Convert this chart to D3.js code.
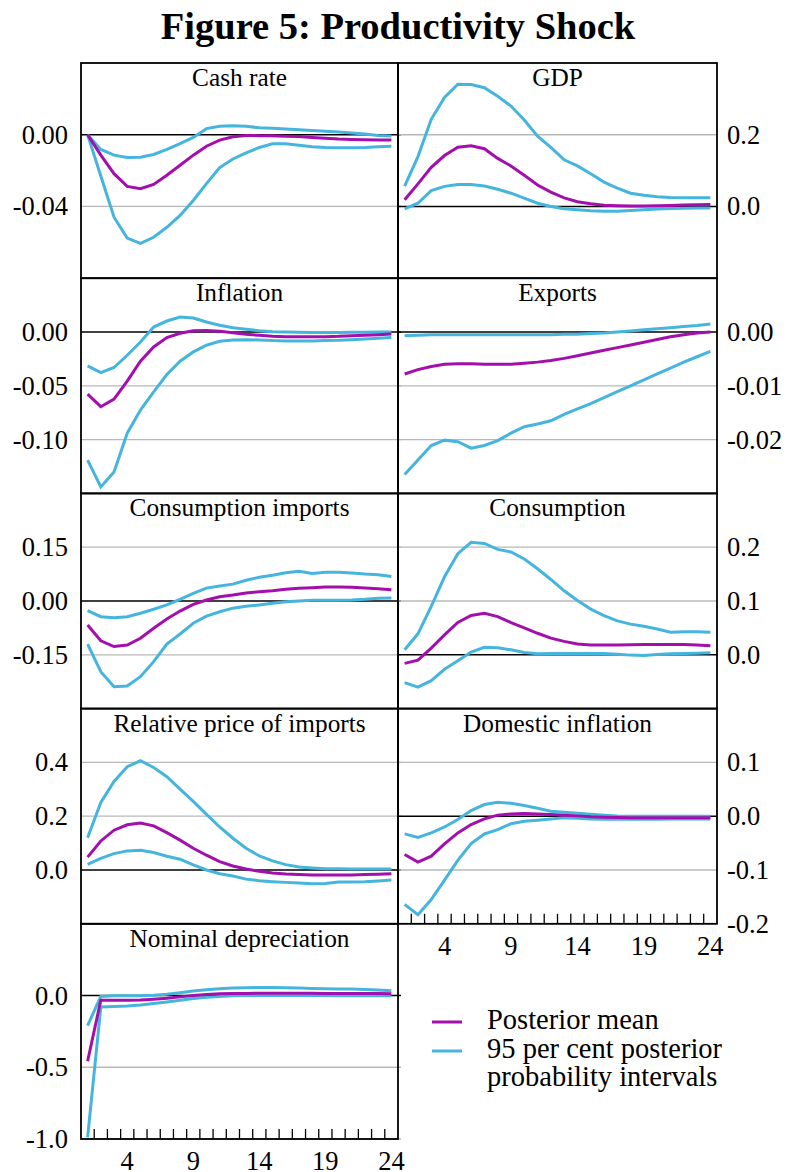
<!DOCTYPE html>
<html>
<head>
<meta charset="utf-8">
<script src="https://cdn.jsdelivr.net/npm/d3@7"></script>
<style>
  body { margin: 0; background: #fff; }
  svg text { font-family: "Liberation Serif", "Times New Roman", serif; fill: #000; }
</style>
</head>
<body>
<svg id="chart" width="790" height="1172"></svg>
<script>
// horizon (quarters)
const periods = d3.range(1, 25);
const xTickLabels = [4, 9, 14, 19, 24];

const cashMean = [0, -0.0114, -0.0217, -0.0288, -0.0301, -0.0277, -0.0226, -0.017, -0.0114, -0.0064, -0.003, -0.0011, -0.0004, -0.0005, -0.0006, -0.0008, -0.001, -0.0015, -0.002, -0.0024, -0.0026, -0.0028, -0.0029, -0.003];
const cashUpper = [0, -0.0082, -0.0114, -0.0127, -0.0125, -0.011, -0.0082, -0.0049, -0.0015, 0.0034, 0.0047, 0.005, 0.0047, 0.0039, 0.0036, 0.0032, 0.0028, 0.0024, 0.002, 0.0015, 0.0009, 0.0004, -0.0004, -0.0007];
const cashLower = [0, -0.023, -0.046, -0.0576, -0.0606, -0.0572, -0.0516, -0.045, -0.0367, -0.0273, -0.0183, -0.0135, -0.0101, -0.0071, -0.005, -0.005, -0.0058, -0.0067, -0.0071, -0.0072, -0.0072, -0.0071, -0.0067, -0.0064];

const gdpMean = [0.0185, 0.063, 0.109, 0.142, 0.165, 0.169, 0.161, 0.134, 0.113, 0.087, 0.06, 0.04, 0.024, 0.013, 0.0074, 0.0037, 0.002, 0.001, 0.001, 0.002, 0.003, 0.004, 0.005, 0.0056];
const gdpUpper = [0.057, 0.139, 0.243, 0.304, 0.341, 0.34, 0.331, 0.307, 0.28, 0.241, 0.196, 0.165, 0.13, 0.113, 0.091, 0.068, 0.051, 0.037, 0.031, 0.027, 0.025, 0.024, 0.024, 0.024];
const gdpLower = [-0.0065, 0.009, 0.044, 0.056, 0.061, 0.061, 0.057, 0.048, 0.037, 0.023, 0.009, 0, -0.0065, -0.009, -0.012, -0.013, -0.013, -0.011, -0.009, -0.007, -0.006, -0.005, -0.0046, -0.0046];

const inflMean = [-0.0577, -0.0694, -0.0623, -0.0457, -0.0272, -0.0139, -0.0052, -0.0012, 0.0012, 0.0015, 0.0006, -0.0006, -0.0022, -0.003, -0.004, -0.0043, -0.0043, -0.0043, -0.0043, -0.004, -0.0034, -0.003, -0.0025, -0.0019];
const inflUpper = [-0.0315, -0.0377, -0.033, -0.0216, -0.0093, 0.0046, 0.0102, 0.0139, 0.013, 0.0093, 0.0062, 0.004, 0.0025, 0.0012, 0.0003, 0, -0.0003, -0.0005, -0.0005, -0.0004, -0.0003, -0.0002, 0, 0];
const inflLower = [-0.119, -0.144, -0.13, -0.094, -0.0725, -0.0556, -0.0395, -0.0272, -0.0185, -0.0123, -0.0086, -0.0074, -0.0071, -0.0074, -0.008, -0.0083, -0.0083, -0.0083, -0.008, -0.0077, -0.0071, -0.0065, -0.0059, -0.0052];

const exportsMean = [-0.0078, -0.007, -0.0064, -0.006, -0.0059, -0.0059, -0.006, -0.006, -0.006, -0.0058, -0.0056, -0.0053, -0.0049, -0.0044, -0.0039, -0.0034, -0.0029, -0.0024, -0.0019, -0.0014, -0.0009, -0.0005, -0.0002, 0];
const exportsUpper = [-0.0007, -0.0006, -0.0005, -0.0005, -0.0005, -0.0005, -0.0005, -0.0005, -0.0005, -0.0005, -0.0005, -0.0005, -0.0004, -0.0004, -0.0003, -0.0002, 0, 0.0002, 0.0004, 0.0006, 0.0008, 0.001, 0.0012, 0.0015];
const exportsLower = [-0.0265, -0.0238, -0.0211, -0.0201, -0.0204, -0.0216, -0.0211, -0.0202, -0.0188, -0.0176, -0.0171, -0.0165, -0.0153, -0.0143, -0.0133, -0.0122, -0.0111, -0.01, -0.0089, -0.0078, -0.0067, -0.0056, -0.0046, -0.0036];

const consImpMean = [-0.0669, -0.111, -0.127, -0.123, -0.104, -0.076, -0.05, -0.028, -0.0093, 0.0028, 0.012, 0.0167, 0.0223, 0.026, 0.0288, 0.0325, 0.0353, 0.0372, 0.039, 0.039, 0.038, 0.036, 0.0344, 0.0316];
const consImpUpper = [-0.027, -0.0437, -0.047, -0.0437, -0.034, -0.023, -0.011, 0.0046, 0.0214, 0.036, 0.042, 0.047, 0.058, 0.066, 0.072, 0.079, 0.083, 0.077, 0.08, 0.08, 0.078, 0.075, 0.073, 0.068];
const consImpLower = [-0.12, -0.197, -0.239, -0.237, -0.211, -0.169, -0.12, -0.092, -0.062, -0.042, -0.03, -0.02, -0.0149, -0.011, -0.0065, -0.0019, 0, 0.0019, 0.0019, 0.0019, 0.0028, 0.0046, 0.0074, 0.0084];

const consMean = [-0.016, -0.01, 0.0124, 0.037, 0.06, 0.073, 0.077, 0.071, 0.06, 0.05, 0.04, 0.031, 0.025, 0.02, 0.018, 0.018, 0.018, 0.0185, 0.019, 0.019, 0.019, 0.019, 0.018, 0.017];
const consUpper = [0.0093, 0.039, 0.09, 0.145, 0.188, 0.209, 0.207, 0.196, 0.191, 0.178, 0.16, 0.14, 0.119, 0.101, 0.085, 0.073, 0.063, 0.057, 0.053, 0.048, 0.042, 0.043, 0.043, 0.042];
const consLower = [-0.0516, -0.06, -0.048, -0.027, -0.011, 0.005, 0.014, 0.013, 0.0093, 0.0043, 0.0019, 0.0025, 0.0025, 0.0025, 0.0025, 0.0025, 0.0012, -0.0006, -0.0012, 0.0006, 0.0019, 0.0025, 0.0031, 0.0037];

const relPriceMean = [0.048, 0.108, 0.148, 0.168, 0.175, 0.164, 0.139, 0.111, 0.081, 0.055, 0.031, 0.015, 0.0037, -0.005, -0.011, -0.015, -0.017, -0.019, -0.019, -0.019, -0.019, -0.017, -0.016, -0.014];
const relPriceUpper = [0.12, 0.251, 0.329, 0.384, 0.406, 0.381, 0.347, 0.301, 0.255, 0.207, 0.16, 0.118, 0.081, 0.052, 0.034, 0.02, 0.011, 0.0075, 0.005, 0.005, 0.004, 0.004, 0.004, 0.004];
const relPriceLower = [0.021, 0.043, 0.061, 0.071, 0.073, 0.065, 0.051, 0.04, 0.019, 0, -0.0137, -0.022, -0.034, -0.04, -0.0435, -0.046, -0.048, -0.051, -0.05, -0.045, -0.045, -0.044, -0.041, -0.037];

const domInflMean = [-0.0712, -0.0854, -0.0743, -0.0514, -0.031, -0.0155, -0.005, 0.0019, 0.0043, 0.005, 0.0043, 0.0031, 0.0019, 0.0006, -0.0012, -0.002, -0.0025, -0.0028, -0.003, -0.003, -0.003, -0.003, -0.003, -0.003];
const domInflUpper = [-0.0328, -0.0396, -0.031, -0.02, -0.0062, 0.0105, 0.0217, 0.026, 0.024, 0.0198, 0.0149, 0.0093, 0.0074, 0.0056, 0.0037, 0.0019, 0.0006, 0, 0, 0, 0, 0, 0, 0];
const domInflLower = [-0.164, -0.183, -0.155, -0.119, -0.082, -0.051, -0.033, -0.025, -0.014, -0.0093, -0.0074, -0.005, -0.003, -0.0037, -0.005, -0.0056, -0.0056, -0.0056, -0.0056, -0.0056, -0.005, -0.005, -0.005, -0.005];

const deprMean = [-0.458, -0.033, -0.033, -0.033, -0.031, -0.026, -0.019, -0.0094, 0, 0.007, 0.012, 0.015, 0.015, 0.016, 0.016, 0.016, 0.016, 0.016, 0.015, 0.015, 0.015, 0.015, 0.014, 0.012];
const deprUpper = [-0.209, -0.007, -0.002, -0.002, -0.002, 0.002, 0.009, 0.019, 0.031, 0.04, 0.047, 0.052, 0.054, 0.056, 0.056, 0.054, 0.052, 0.049, 0.047, 0.045, 0.045, 0.042, 0.038, 0.033];
const deprLower = [-0.988, -0.08, -0.077, -0.073, -0.066, -0.056, -0.045, -0.033, -0.021, -0.012, -0.007, -0.002, 0, 0, 0, 0, 0, 0, 0, -0.002, -0.002, -0.002, -0.002, -0.002];

// y axis setup per panel: [min, max], labelled ticks, decimals
const panels = [
  { title: "Cash rate", col: 0, row: 0, domain: [-0.08, 0.04], ticks: [-0.04, 0], dec: 2, mean: cashMean, upper: cashUpper, lower: cashLower },
  { title: "GDP", col: 1, row: 0, domain: [-0.2, 0.4], ticks: [0, 0.2], dec: 1, mean: gdpMean, upper: gdpUpper, lower: gdpLower },
  { title: "Inflation", col: 0, row: 1, domain: [-0.15, 0.05], ticks: [-0.1, -0.05, 0], dec: 2, mean: inflMean, upper: inflUpper, lower: inflLower },
  { title: "Exports", col: 1, row: 1, domain: [-0.03, 0.01], ticks: [-0.02, -0.01, 0], dec: 2, mean: exportsMean, upper: exportsUpper, lower: exportsLower },
  { title: "Consumption imports", col: 0, row: 2, domain: [-0.3, 0.3], ticks: [-0.15, 0, 0.15], dec: 2, mean: consImpMean, upper: consImpUpper, lower: consImpLower },
  { title: "Consumption", col: 1, row: 2, domain: [-0.1, 0.3], ticks: [0, 0.1, 0.2], dec: 1, mean: consMean, upper: consUpper, lower: consLower },
  { title: "Relative price of imports", col: 0, row: 3, domain: [-0.2, 0.6], ticks: [0, 0.2, 0.4], dec: 1, mean: relPriceMean, upper: relPriceUpper, lower: relPriceLower },
  { title: "Domestic inflation", col: 1, row: 3, domain: [-0.2, 0.2], ticks: [-0.2, -0.1, 0, 0.1], dec: 1, mean: domInflMean, upper: domInflUpper, lower: domInflLower, xAxis: true },
  { title: "Nominal depreciation", col: 0, row: 4, domain: [-1.0, 0.5], ticks: [-1.0, -0.5, 0], dec: 1, mean: deprMean, upper: deprUpper, lower: deprLower, xAxis: true }
];

const meanColor = "#a30fac";
const bandColor = "#45b5de";

const colX = [[81, 398], [398, 717]];
const rowTop = 63, rowH = 215.2;

const svg = d3.select("#chart");

svg.append("text")
  .attr("x", 398).attr("y", 39)
  .attr("text-anchor", "middle")
  .style("font-size", "38.5px")
  .style("font-weight", "bold")
  .text("Figure 5: Productivity Shock");

panels.forEach(p => {
  const [x0, x1] = colX[p.col];
  const top = rowTop + p.row * rowH, bottom = top + rowH;
  const x = d3.scaleBand().domain(periods).range([x0, x1]);
  const y = d3.scaleLinear().domain(p.domain).range([bottom, top]);
  const cx = d => x(d) + x.bandwidth() / 2;
  const g = svg.append("g");

  // grid lines (zero line in black)
  const gridEnd = p.col === 0 ? x1 + 3 : x1;
  g.selectAll("line.grid")
    .data(p.ticks.filter(t => t !== 0))
    .join("line")
    .attr("x1", x0).attr("x2", gridEnd)
    .attr("y1", d => y(d)).attr("y2", d => y(d))
    .attr("stroke", "#b8b8b8").attr("stroke-width", 1.3);
  g.append("line")
    .attr("x1", x0).attr("x2", gridEnd)
    .attr("y1", y(0)).attr("y2", y(0))
    .attr("stroke", "#000").attr("stroke-width", 1.6);

  const line = d3.line().x((d, i) => cx(periods[i])).y(d => y(d));
  [p.upper, p.lower].forEach(s => {
    g.append("path").attr("d", line(s))
      .attr("fill", "none").attr("stroke", bandColor).attr("stroke-width", 3);
  });
  g.append("path").attr("d", line(p.mean))
    .attr("fill", "none").attr("stroke", meanColor).attr("stroke-width", 3);

  g.append("rect")
    .attr("x", x0).attr("y", top)
    .attr("width", x1 - x0).attr("height", bottom - top)
    .attr("fill", "none").attr("stroke", "#000").attr("stroke-width", 1.8);

  g.append("text")
    .attr("x", (x0 + x1) / 2).attr("y", top + 23)
    .attr("text-anchor", "middle")
    .style("font-size", "25.3px")
    .text(p.title);

  // y tick labels: left column on the left, right column on the right
  g.selectAll("text.tick")
    .data(p.ticks)
    .join("text")
    .attr("x", p.col === 0 ? x0 - 13 : x1 + 10)
    .attr("y", d => y(d))
    .attr("dy", "0.34em")
    .attr("text-anchor", p.col === 0 ? "end" : "start")
    .style("font-size", "26.5px")
    .text(d => d3.format("." + p.dec + "f")(d).replace("\u2212", "-"));

  if (p.xAxis) {
    g.selectAll("line.xtick")
      .data(periods.slice(1))
      .join("line")
      .attr("x1", d => x(d)).attr("x2", d => x(d))
      .attr("y1", bottom).attr("y2", bottom - 10)
      .attr("stroke", "#000").attr("stroke-width", 1.3);
    g.selectAll("text.xlab")
      .data(xTickLabels)
      .join("text")
      .attr("x", d => cx(d))
      .attr("y", bottom + 31)
      .attr("text-anchor", "middle")
      .style("font-size", "26.5px")
      .text(d => d);
  }
});

// legend
const legend = svg.append("g");
const legendItems = [
  { color: meanColor, lines: ["Posterior mean"] },
  { color: bandColor, lines: ["95 per cent posterior", "probability intervals"] }
];
legendItems.forEach((item, i) => {
  const ly = 1022 + i * 29;
  legend.append("line")
    .attr("x1", 432).attr("x2", 462)
    .attr("y1", ly).attr("y2", ly)
    .attr("stroke", item.color).attr("stroke-width", 3);
  item.lines.forEach((t, j) => {
    legend.append("text")
      .attr("x", 487).attr("y", ly + 7 + j * 28)
      .style("font-size", "28.5px")
      .text(t);
  });
});
</script>
</body>
</html>
